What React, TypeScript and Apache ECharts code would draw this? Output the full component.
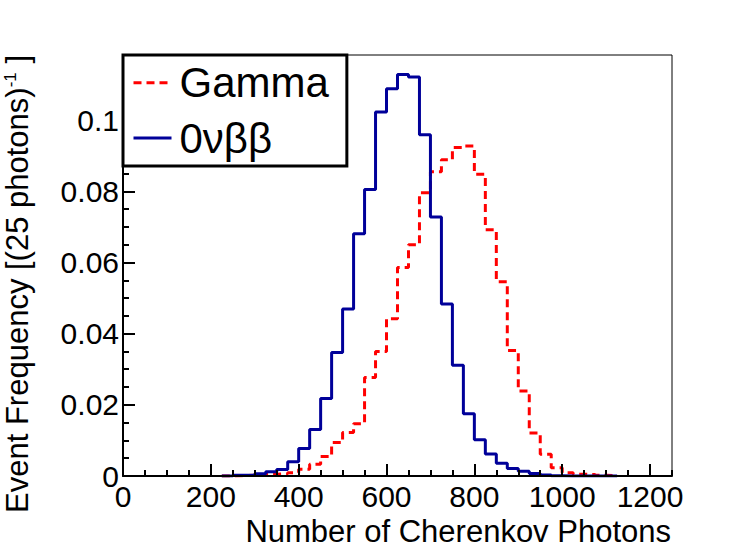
import React, { useEffect, useRef } from "react";
import * as echarts from "echarts";

// Bin lower edges (25-photon bins)
const binEdges = [
  250, 275, 300, 325, 350, 375, 400, 425, 450, 475, 500, 525, 550, 575, 600,
  625, 650, 675, 700, 725, 750, 775, 800, 825, 850, 875, 900, 925, 950, 975,
  1000, 1025, 1050, 1075, 1100,
];
const binWidth = 25;

const gammaValues = [
  0.0001, 0.0002, 0.0003, 0.0005, 0.0006, 0.0009, 0.0019, 0.0033, 0.0055,
  0.0094, 0.0122, 0.0147, 0.0277, 0.035, 0.0442, 0.0586, 0.065, 0.0796,
  0.0855, 0.0889, 0.0923, 0.0927, 0.0848, 0.0692, 0.0546, 0.0353, 0.0239,
  0.0121, 0.0061, 0.0023, 0.0009, 0.0005, 0.0004, 0.0002, 0.0001,
];

const bbValues = [
  0.0002, 0.0003, 0.0006, 0.0012, 0.0018, 0.004, 0.0077, 0.0131, 0.0218,
  0.0347, 0.0469, 0.0681, 0.0805, 0.1023, 0.1088, 0.1128, 0.1121, 0.0959,
  0.0728, 0.0483, 0.0311, 0.0175, 0.0102, 0.0062, 0.0036, 0.0021, 0.0013,
  0.0007, 0.0003, 0.0001, 0, 0, 0, 0, 0,
];

const seriesNames = ["Gamma", "0νββ"];
const xTitle = "Number of Cherenkov Photons";
const yTitleMain = "Event Frequency [(25 photons)";
const yTitleSup = "-1";
const yTitleEnd = " ]";

const FONT = "'Liberation Sans', Arial, Helvetica, sans-serif";

function toSteps(values: number[]): [number, number][] {
  const pts: [number, number][] = [[binEdges[0] - binWidth, 0]];
  binEdges.forEach((e, i) => pts.push([e, values[i]]));
  pts.push([binEdges[binEdges.length - 1] + binWidth, 0]);
  return pts;
}

export default function App() {
  const ref = useRef<HTMLDivElement>(null);
  useEffect(() => {
    if (!ref.current) return;
    const chart = echarts.init(ref.current, undefined, { renderer: "svg" });
    chart.setOption({
      animation: false,
      backgroundColor: "#ffffff",
      textStyle: { fontFamily: FONT },
      grid: {
        left: 123,
        top: 55,
        right: 75,
        bottom: 80,
        show: true,
        borderColor: "#000",
        borderWidth: 1,
        backgroundColor: "transparent",
      },
      legend: {
        data: seriesNames,
        orient: "vertical",
        left: 123,
        top: 55,
        padding: [4.7, 18, 5, 9],
        itemGap: 9.3,
        itemWidth: 38,
        itemHeight: 14,
        borderColor: "#000",
        borderWidth: 3,
        backgroundColor: "#fff",
        itemStyle: { opacity: 0, borderWidth: 0 },
        textStyle: {
          fontSize: 42,
          lineHeight: 46,
          color: "#000",
          fontFamily: FONT,
          padding: [0, 0, 0, 3],
        },
        lineStyle: { width: 3 },
        z: 20,
      },
      xAxis: [
        {
          type: "value",
          min: 0,
          max: 1250,
          interval: 200,
          position: "bottom",
          z: 10,
          axisLine: { show: true, onZero: false, lineStyle: { color: "#000", width: 2 } },
          axisTick: { show: true, inside: true, length: 12, lineStyle: { color: "#000", width: 2 } },
          axisLabel: {
            show: true,
            margin: 5,
            fontSize: 30,
            color: "#000",
            fontFamily: FONT,
            showMaxLabel: false,
            formatter: (v: number) => String(v),
          },
          splitLine: { show: false },
        },
        {
          type: "value",
          min: 0,
          max: 1250,
          interval: 50,
          position: "bottom",
          z: 10,
          axisLine: { show: false },
          axisTick: { show: true, inside: true, length: 6, lineStyle: { color: "#000", width: 2 } },
          axisLabel: { show: false },
          splitLine: { show: false },
        },
      ],
      yAxis: [
        {
          type: "value",
          min: 0,
          max: 0.1183,
          interval: 0.02,
          position: "left",
          z: 10,
          axisLine: { show: true, onZero: false, lineStyle: { color: "#000", width: 2 } },
          axisTick: { show: true, inside: true, length: 12, lineStyle: { color: "#000", width: 2 } },
          axisLabel: {
            show: true,
            margin: 4,
            fontSize: 30,
            color: "#000",
            fontFamily: FONT,
            showMaxLabel: false,
            formatter: (v: number) => String(v),
          },
          splitLine: { show: false },
        },
        {
          type: "value",
          min: 0,
          max: 0.1183,
          interval: 0.005,
          position: "left",
          z: 10,
          axisLine: { show: false },
          axisTick: { show: true, inside: true, length: 6, lineStyle: { color: "#000", width: 2 } },
          axisLabel: { show: false },
          splitLine: { show: false },
        },
      ],
      graphic: [
        {
          type: "text",
          x: 671,
          y: 531,
          style: {
            text: xTitle,
            align: "right",
            verticalAlign: "middle",
            fontSize: 31,
            fontFamily: FONT,
            fill: "#000",
          },
        },
        {
          type: "text",
          x: 17.5,
          y: 55,
          rotation: Math.PI / 2,
          style: {
            text: `{a|${yTitleMain}}{s|${yTitleSup}}{a|${yTitleEnd}}`,
            align: "right",
            verticalAlign: "middle",
            rich: {
              a: { fontSize: 31, lineHeight: 31, fontFamily: FONT, fill: "#000" },
              s: { fontSize: 17, lineHeight: 22, fontFamily: FONT, fill: "#000", verticalAlign: "top" },
            },
          },
        },
      ],
      series: [
        {
          name: seriesNames[0],
          type: "line",
          xAxisIndex: 0,
          yAxisIndex: 0,
          step: "end",
          symbol: "none",
          showSymbol: false,
          data: toSteps(gammaValues),
          itemStyle: { color: "#ff0000" },
          lineStyle: { color: "#ff0000", width: 3, type: [8, 5] },
          z: 3,
        },
        {
          name: seriesNames[1],
          type: "line",
          xAxisIndex: 0,
          yAxisIndex: 0,
          step: "end",
          symbol: "none",
          showSymbol: false,
          data: toSteps(bbValues),
          itemStyle: { color: "#000099" },
          lineStyle: { color: "#000099", width: 3 },
          z: 4,
        },
      ],
    });
    return () => chart.dispose();
  }, []);
  return (
    <div
      ref={ref}
      style={{ position: "absolute", left: 0, top: 0, width: 747, height: 556, background: "#fff" }}
    />
  );
}
